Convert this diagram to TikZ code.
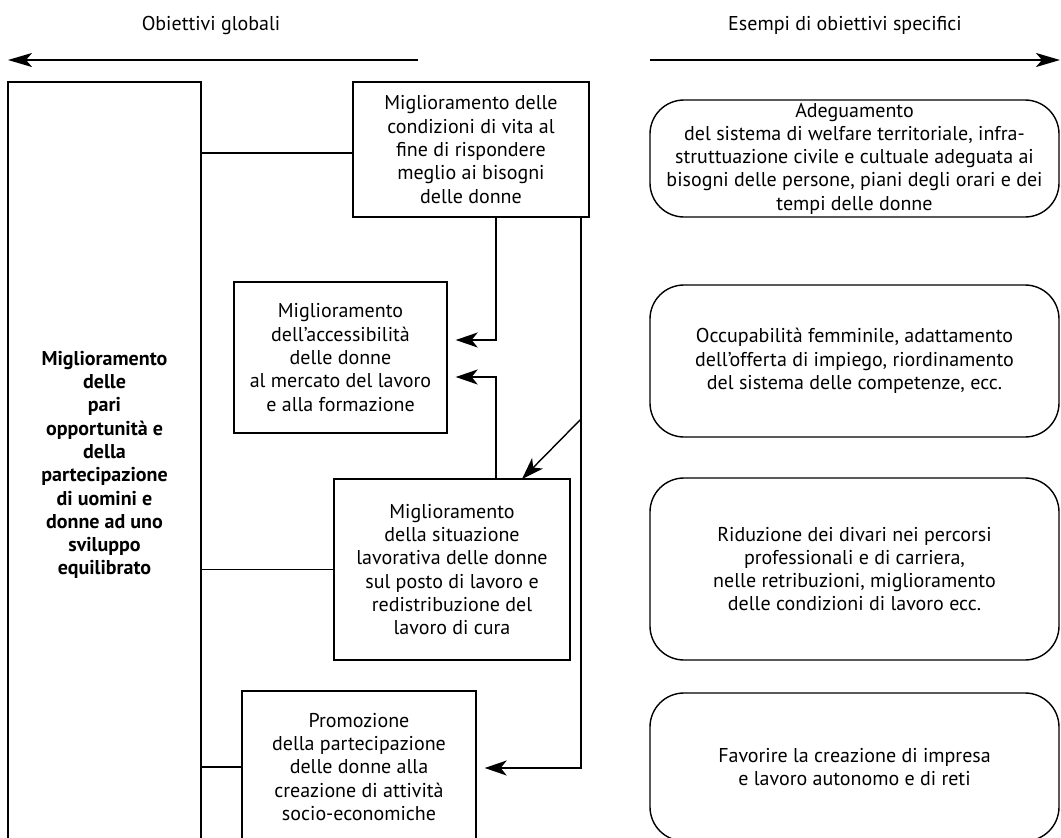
\documentclass[tikz,border=0pt]{standalone}
\usepackage{fontspec}
\setmainfont{PT Sans}
\usetikzlibrary{arrows.meta,calc}
\begin{document}
\begin{tikzpicture}[x=1pt,y=-1pt,
  every node/.style={font=\fontsize{20}{23.3}\selectfont, align=center, inner sep=0pt},
  box/.style={draw, line width=1.4pt, rectangle},
  rbox/.style={draw, line width=1.4pt, rectangle, rounded corners=34pt},
  conn/.style={line width=1.4pt},
  arr/.style={line width=1.4pt, -{Stealth[length=22pt,width=15pt,inset=6pt]}, shorten >=8pt},
  topar/.style={line width=1.8pt, -{Stealth[length=24pt,width=14pt,inset=6pt]}}
]
\useasboundingbox (0,0) rectangle (1061,838);
% titles
\node (tg) at (211,25) {Obiettivi globali};
\node (ts) at (845,25) {Esempi di obiettivi specifici};
\coordinate (lgA) at (418,60);
\coordinate (lgB) at (8,60);
\coordinate (rsA) at (650,60);
\coordinate (rsB) at (1060,60);
\draw[topar] (lgA) -- (lgB);
\draw[topar] (rsA) -- (rsB);
% big box
\node[box, minimum width=193pt, minimum height=766pt, font=\fontsize{20}{23.3}\selectfont\bfseries] (big) at (104.5,465)
 {Miglioramento\\delle\\pari\\opportunità e\\della\\partecipazione\\di uomini e\\donne ad uno\\sviluppo\\equilibrato};
% left column boxes
\node[box, minimum width=236pt, minimum height=135pt] (b1) at (471,149.5)
 {Miglioramento delle\\condizioni di vita al\\fine di rispondere\\meglio ai bisogni\\delle donne};
\node[box, minimum width=213pt, minimum height=151pt] (b2) at (340.5,357.5)
 {Miglioramento\\dell’accessibilità\\delle donne\\al mercato del lavoro\\e alla formazione};
\node[box, minimum width=236pt, minimum height=181pt] (b3) at (452,569.5)
 {Miglioramento\\della situazione\\lavorativa delle donne\\sul posto di lavoro e\\redistribuzione del\\lavoro di cura};
\node[box, minimum width=234pt, minimum height=152pt] (b4) at (359,767)
 {Promozione\\della partecipazione\\delle donne alla\\creazione di attività\\socio-economiche};
% right column
\node[rbox, minimum width=409pt, minimum height=117pt] (r1) at (854.5,158.5)
 {Adeguamento\\del sistema di welfare territoriale, infra-\\struttuazione civile e cultuale adeguata ai\\bisogni delle persone, piani degli orari e dei\\tempi delle donne};
\node[rbox, minimum width=409pt, minimum height=152pt] (r2) at (854.5,361)
 {Occupabilità femminile, adattamento\\dell’offerta di impiego, riordinamento\\del sistema delle competenze, ecc.};
\node[rbox, minimum width=409pt, minimum height=182pt] (r3) at (854.5,569)
 {Riduzione dei divari nei percorsi\\professionali e di carriera,\\nelle retribuzioni, miglioramento\\delle condizioni di lavoro ecc.};
\node[rbox, minimum width=409pt, minimum height=148pt] (r4) at (854.5,767)
 {Favorire la creazione di impresa\\e lavoro autonomo e di reti};
% connectors
\draw[conn] (big.east |- 0,153) -- (b1.west |- 0,153);
\draw[conn] (big.east |- b3.west) -- (b3.west);
\draw[conn] (big.east |- b4.west) -- (b4.west);
\coordinate (v1) at (496,217);
\coordinate (v2) at (581,217);
\coordinate (d1) at (581,419);
\coordinate (d2) at (522,479);
\draw[arr] (b1.south -| v1) |- (b2.east |- 0,340);
\draw[arr] (b3.north -| v1) |- (b2.east |- 0,377);
\draw[arr] (b1.south -| v2) |- (b4.east |- 0,768);
\draw[arr, shorten >=0pt] (d1) -- (d2);
\end{tikzpicture}
\end{document}
